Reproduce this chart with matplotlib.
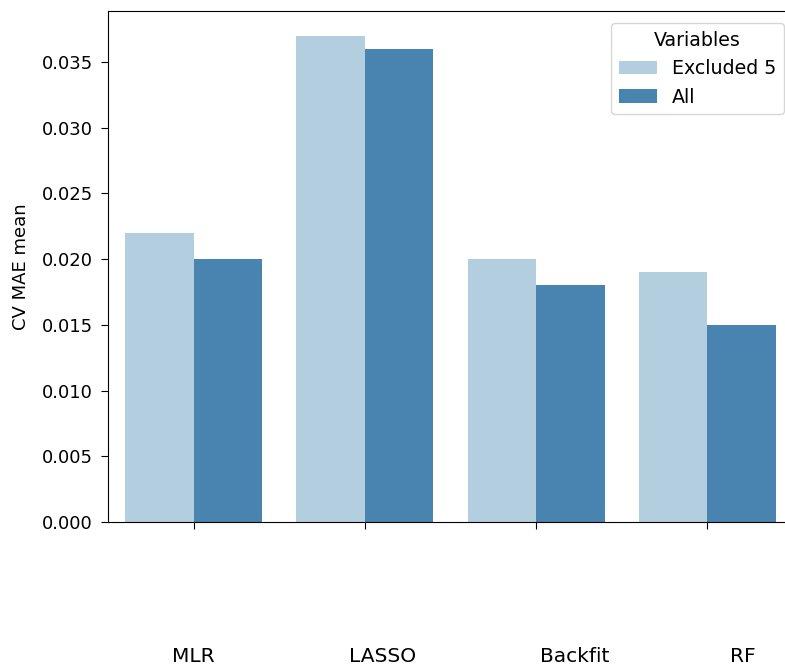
import matplotlib
matplotlib.use("Agg")
import matplotlib.pyplot as plt
import pandas as pd
import seaborn as sns

models = ["MLR", "LASSO", "Backfit", "RF"]
variable_sets = ["Excluded 5", "All"]
mae_excluded5 = [0.022, 0.037, 0.020, 0.019]
mae_all = [0.020, 0.036, 0.018, 0.015]

df = pd.DataFrame({
    "Model": models * 2,
    "Variables": [variable_sets[0]] * len(models) + [variable_sets[1]] * len(models),
    "CV MAE mean": mae_excluded5 + mae_all,
})

W, H, DPI = 785, 669, 100
fig = plt.figure(figsize=(W / DPI, H / DPI), dpi=DPI)
# axes run past the right edge of the canvas
ax = fig.add_axes([108 / W, 1 - 522 / H, 685 / W, 510.6 / H])

sns.barplot(data=df, x="Model", y="CV MAE mean", hue="Variables",
            palette="Blues", ax=ax)

ax.spines["right"].set_visible(False)
ax.set_yticks([0.0, 0.005, 0.010, 0.015, 0.020, 0.025, 0.030, 0.035])
ax.set_yticklabels([f"{v:.3f}" for v in ax.get_yticks()], fontsize=13)
ax.tick_params(axis="y", pad=6, length=5)
ax.tick_params(axis="x", length=5)
ax.set_ylabel("CV MAE mean", fontsize=13, labelpad=8)
ax.set_xlabel("")
ax.set_xticks(range(len(models)))
ax.set_xticklabels([""] * len(models))

# category names set well below the axis
label_x = [193.5, 383, 575, 743]
for name, px in zip(models, label_x):
    fig.text(px / W, 1 - 656 / H, name, ha="center", va="center", fontsize=14.5)

leg = ax.legend(title="Variables", loc="upper right",
                bbox_to_anchor=(784 / W, 1 - 23 / H),
                bbox_transform=fig.transFigure, borderaxespad=0,
                fontsize=13.7, title_fontsize=13.7)

fig.savefig("out.png", dpi=DPI)
